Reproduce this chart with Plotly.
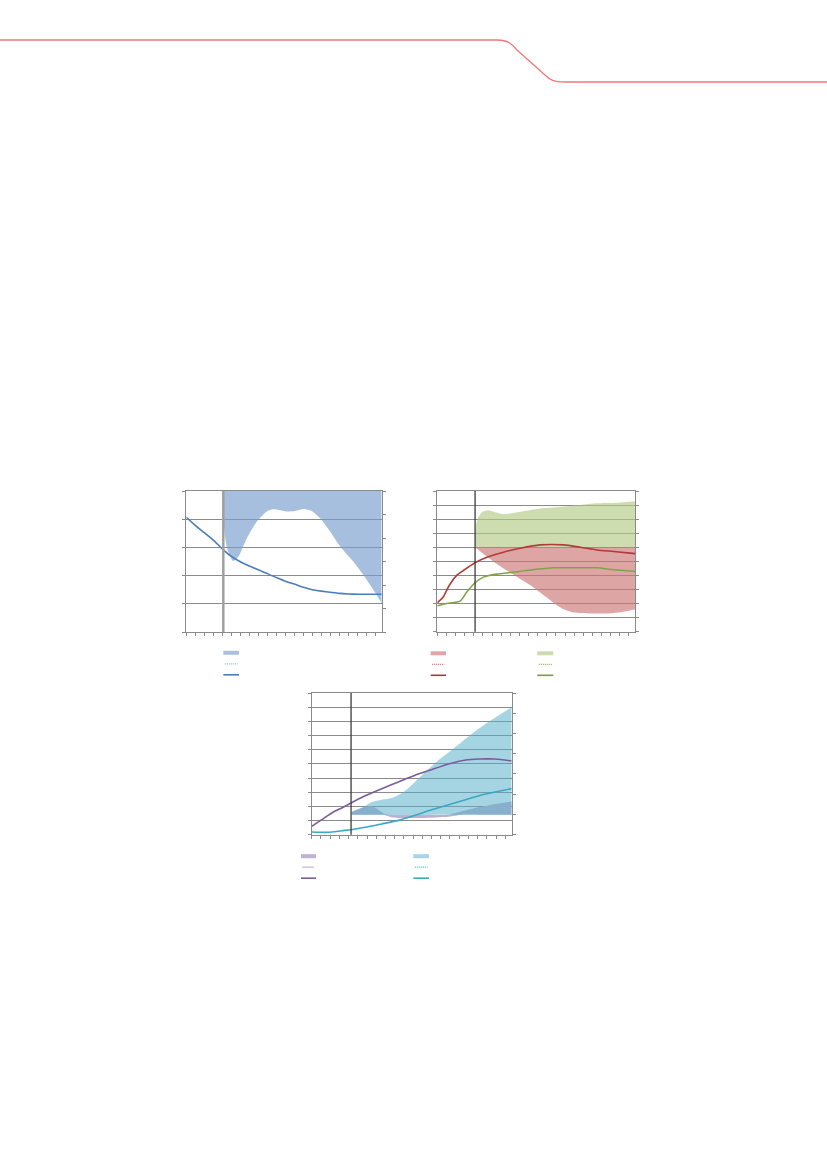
import plotly.graph_objects as go

W, H = 827, 1170

# ---------------- data ----------------
# Chart 1 (left, top)
c1_line_x = [0, 1, 2, 3, 4, 5, 6, 7, 8, 9, 10, 11, 12, 13, 14, 15, 16, 17, 18, 19, 20, 21, 21.7]
c1_line_y = [4.07, 3.78, 3.52, 3.26, 2.95, 2.68, 2.49, 2.34, 2.21, 2.07, 1.93, 1.80, 1.70,
             1.59, 1.50, 1.45, 1.41, 1.37, 1.35, 1.34, 1.34, 1.34, 1.34]
c1_band_x = [4.11, 4.5, 5.2, 5.78, 6.71, 7.82, 8.93, 9.67, 11.16, 12.08, 13.0, 13.93,
             14.86, 15.97, 17.08, 18.56, 19.67, 20.78, 21.7]
c1_band_lo = [3.95, 3.0, 2.52, 2.67, 3.32, 3.91, 4.27, 4.35, 4.27, 4.29, 4.36, 4.29,
              4.03, 3.56, 3.03, 2.49, 2.02, 1.49, 1.02]
c1_band_hi = [5.0, 5.0, 5.0, 5.0, 5.0, 5.0, 5.0, 5.0, 5.0, 5.0, 5.0, 5.0,
              5.0, 5.0, 5.0, 5.0, 5.0, 5.0, 5.0]
c1_vline = 4.11

# Chart 2 (right, top)
c2_red_x = [0, 0.66, 1.21, 2.13, 2.86, 4.14, 5.43, 7.25, 9.09, 11.3, 13.85, 15.7, 17.5, 19.3, 21.7]
c2_red_y = [2.07, 2.47, 3.18, 4.0, 4.35, 4.9, 5.29, 5.65, 5.93, 6.17, 6.17, 6.0, 5.81, 5.7, 5.55]
c2_green_x = [0, 1.03, 2.5, 3.23, 4.14, 5.05, 6.5, 8.35, 10.2, 12.75, 14.95, 17.5, 19.3, 21.7]
c2_green_y = [1.84, 2.0, 2.17, 2.82, 3.48, 3.88, 4.09, 4.23, 4.38, 4.54, 4.54, 4.54, 4.4, 4.28]
c2_gband_x = [4.14, 4.4, 4.9, 5.5, 6.5, 7.25, 8.7, 11.3, 13.85, 15.7, 17.5, 19.7, 21.7]
c2_gband_hi = [7.2, 8.0, 8.5, 8.64, 8.47, 8.35, 8.47, 8.75, 8.89, 9.01, 9.13, 9.17, 9.27]
c2_gband_lo = [6.0, 6.0, 6.0, 6.0, 6.0, 6.0, 6.0, 6.0, 6.0, 6.0, 6.0, 6.0, 6.0]
c2_rband_x = [4.14, 5.05, 6.5, 8.35, 10.2, 12.0, 13.1, 13.85, 14.95, 16.8, 18.6, 20.1, 21.7]
c2_rband_hi = [6.0, 6.0, 6.0, 6.0, 6.0, 6.0, 6.0, 6.0, 6.0, 6.0, 6.0, 6.0, 6.0]
c2_rband_lo = [6.0, 5.53, 4.83, 4.05, 3.3, 2.43, 1.88, 1.6, 1.37, 1.3, 1.3, 1.39, 1.6]
c2_vline = 4.14

# Chart 3 (bottom)
c3_purple_x = [0, 1.09, 2.35, 3.26, 4.27, 5.8, 7.6, 9.4, 11.2, 13.0, 14.85, 16.7, 18.1, 19.9, 21.7]
c3_purple_y = [0.59, 1.06, 1.6, 1.88, 2.24, 2.75, 3.25, 3.72, 4.19, 4.59, 4.99, 5.27, 5.34, 5.34, 5.2]
c3_teal_x = [0, 1.8, 3.26, 4.27, 5.8, 7.6, 9.4, 11.2, 13.0, 14.85, 16.7, 18.5, 19.9, 21.7]
c3_teal_y = [0.19, 0.17, 0.28, 0.35, 0.52, 0.76, 1.01, 1.37, 1.76, 2.12, 2.47, 2.82, 3.01, 3.25]
c3_tband_x = [4.34, 5.4, 6.52, 7.6, 8.7, 9.8, 10.9, 12.4, 13.85, 15.7, 17.5, 19.3, 21.7]
c3_tband_hi = [1.6, 1.88, 2.31, 2.47, 2.59, 2.94, 3.53, 4.48, 5.3, 6.24, 7.18, 8.0, 9.0]
c3_tband_lo = [1.41, 1.41, 1.41, 1.41, 1.41, 1.41, 1.41, 1.41, 1.41, 1.41, 1.41, 1.41, 1.41]
c3_pband_x = [4.34, 5.61, 6.52, 7.07, 7.97, 8.7, 11.95, 14.85, 16.3, 18.1, 19.9, 21.7]
c3_pband_hi = [1.6, 1.93, 2.0, 1.84, 1.46, 1.41, 1.41, 1.41, 1.65, 1.93, 2.17, 2.35]
c3_pband_lo = [1.41, 1.41, 1.41, 1.40, 1.37, 1.22, 1.18, 1.27, 1.41, 1.41, 1.41, 1.41]
c3_vline = 4.27

# ---------------- styles ----------------
GRID = "#8a8a8a"
BLUE_BAND = "rgba(120,157,206,0.65)"
BLUE_LINE = "#4a7ebb"
RED_BAND = "rgba(204,117,117,0.65)"
RED_LINE = "#b03c3a"
GREEN_BAND = "rgba(178,203,132,0.65)"
GREEN_LINE = "#7fa447"
TEAL_BAND = "rgba(85,176,200,0.53)"
TEAL_LINE = "#3aa8c1"
PURPLE_BAND = "rgb(189,176,210)"
PURPLE_LINE = "#7a5c9e"


def px(x):
    return x / W


def py(y):
    return 1 - y / H


fig = go.Figure()


def band(x, lo, hi, color, xa, ya):
    fig.add_trace(go.Scatter(x=x, y=lo, mode="lines",
                             line=dict(width=0, color=color, shape="spline", smoothing=0.6),
                             xaxis=xa, yaxis=ya, showlegend=False, hoverinfo="skip"))
    fig.add_trace(go.Scatter(x=x, y=hi, mode="lines",
                             line=dict(width=0, color=color, shape="spline", smoothing=0.6),
                             fill="tonexty", fillcolor=color,
                             xaxis=xa, yaxis=ya, showlegend=False, hoverinfo="skip"))


def line(x, y, color, xa, ya):
    fig.add_trace(go.Scatter(x=x, y=y, mode="lines",
                             line=dict(width=1.6, color=color, shape="spline", smoothing=0.6),
                             xaxis=xa, yaxis=ya, showlegend=False))


# chart 1
band(c1_band_x, c1_band_lo, c1_band_hi, BLUE_BAND, "x", "y")
line(c1_line_x, c1_line_y, BLUE_LINE, "x", "y")
# chart 2
band(c2_gband_x, c2_gband_lo, c2_gband_hi, GREEN_BAND, "x2", "y3")
band(c2_rband_x, c2_rband_lo, c2_rband_hi, RED_BAND, "x2", "y3")
line(c2_green_x, c2_green_y, GREEN_LINE, "x2", "y3")
line(c2_red_x, c2_red_y, RED_LINE, "x2", "y3")
# chart 3
band(c3_pband_x, c3_pband_lo, c3_pband_hi, PURPLE_BAND, "x3", "y5")
band(c3_tband_x, c3_tband_lo, c3_tband_hi, TEAL_BAND, "x3", "y5")
line(c3_teal_x, c3_teal_y, TEAL_LINE, "x3", "y5")
line(c3_purple_x, c3_purple_y, PURPLE_LINE, "x3", "y5")

# dummy traces so the right-hand axes are drawn
for ya, xa in (("y2", "x"), ("y4", "x2"), ("y6", "x3")):
    fig.add_trace(go.Scatter(x=[None], y=[None], xaxis=xa, yaxis=ya, showlegend=False))

# ---------------- axes ----------------
boxes = {
    1: dict(x=(186.3, 381.7), y=(491, 632), ny=5, nr=6),
    2: dict(x=(437.3, 635.3), y=(491, 631.7), ny=10, nr=10),
    3: dict(x=(311.7, 511.7), y=(693, 834.7), ny=10, nr=7),
}
XMAX = 21.7
xnames = {1: ("xaxis", "y"), 2: ("xaxis2", "y3"), 3: ("xaxis3", "y5")}
ynames = {1: ("yaxis", "x", "yaxis2"), 2: ("yaxis3", "x2", "yaxis4"), 3: ("yaxis5", "x3", "yaxis6")}

lay = {}
for k, b in boxes.items():
    xd = [px(b["x"][0]), px(b["x"][1])]
    yd = [py(b["y"][1]), py(b["y"][0])]
    xn, xanchor = xnames[k]
    yn, yanchor, rn = ynames[k]
    lay[xn] = dict(domain=xd, anchor=xanchor, range=[0, XMAX], tick0=0, dtick=1,
                   ticks="outside", ticklen=3, tickcolor=GRID, tickwidth=1,
                   showline=True, linecolor=GRID, linewidth=1, mirror=True,
                   showgrid=False, zeroline=False, showticklabels=False, fixedrange=True)
    lay[yn] = dict(domain=yd, anchor=yanchor, range=[0, b["ny"]], tick0=0, dtick=1,
                   ticks="outside", ticklen=3, tickcolor=GRID, tickwidth=1,
                   showline=True, linecolor=GRID, linewidth=1, mirror=True,
                   showgrid=True, gridcolor=GRID, gridwidth=1,
                   zeroline=False, showticklabels=False, fixedrange=True)
    lay[rn] = dict(overlaying=yn.replace("axis", ""), anchor=yanchor, side="right",
                   range=[0, b["nr"]], tick0=0, dtick=1,
                   ticks="outside", ticklen=3, tickcolor=GRID, tickwidth=1,
                   showline=True, linecolor=GRID, linewidth=1,
                   showgrid=False, zeroline=False, showticklabels=False, fixedrange=True)

# ---------------- shapes ----------------
shapes = []
# forecast separators
shapes.append(dict(type="line", xref="x", yref="y domain", x0=c1_vline, x1=c1_vline,
                   y0=0, y1=1, line=dict(color="#a0a0a0", width=2.5)))
shapes.append(dict(type="line", xref="x2", yref="y3 domain", x0=c2_vline, x1=c2_vline,
                   y0=0, y1=1, line=dict(color="#3c3c3c", width=1.3)))
shapes.append(dict(type="line", xref="x3", yref="y5 domain", x0=c3_vline, x1=c3_vline,
                   y0=0, y1=1, line=dict(color="#3c3c3c", width=1.3)))

# header rule
path = "M {:.5f},{:.5f} L {:.5f},{:.5f} ".format(px(0), py(40), px(497), py(40))
path += "C {:.5f},{:.5f} {:.5f},{:.5f} {:.5f},{:.5f} ".format(px(508), py(40), px(512), py(44), px(517), py(50))
path += "L {:.5f},{:.5f} ".format(px(545), py(75))
path += "C {:.5f},{:.5f} {:.5f},{:.5f} {:.5f},{:.5f} ".format(px(550), py(80), px(554), py(82), px(565), py(82))
path += "L {:.5f},{:.5f}".format(px(W), py(82))
shapes.append(dict(type="path", xref="paper", yref="paper", path=path,
                   line=dict(color="#f07878", width=1.3)))


# legend keys
def key_rect(x0, x1, yc, color):
    shapes.append(dict(type="rect", xref="paper", yref="paper", x0=px(x0), x1=px(x1),
                       y0=py(yc + 2), y1=py(yc - 2), fillcolor=color, line=dict(width=0)))


def key_line(x0, x1, yc, color, dash, width):
    shapes.append(dict(type="line", xref="paper", yref="paper", x0=px(x0), x1=px(x1),
                       y0=py(yc), y1=py(yc), line=dict(color=color, width=width, dash=dash)))


legend_sets = [
    (223.3, 239, 652.8, "#a9c0de", "#9db6d8", BLUE_LINE),
    (430.7, 446, 653.3, "#dea6a6", "#c46a6a", "#a03c3a"),
    (537.3, 553.3, 653.3, "#cddcb0", "#94b25a", "#7a9a47"),
    (301, 316, 856.2, "#bdb1d4", "#8a72ae", PURPLE_LINE),
    (413.3, 429, 856.2, "#a6d6e3", "#4fb3cc", TEAL_LINE),
]
for x0, x1, yc, cband, cdot, cline in legend_sets:
    key_rect(x0, x1, yc, cband)
    key_line(x0 + 1.5, x1 - 1.5, yc + 11, cdot, "1px,1px", 1.2)
    key_line(x0, x1, yc + 22, cline, "solid", 1.6)

fig.update_layout(
    width=W, height=H,
    margin=dict(l=0, r=0, t=0, b=0),
    paper_bgcolor="white", plot_bgcolor="rgba(0,0,0,0)",
    showlegend=False,
    shapes=shapes,
    **lay,
)

fig.write_html("out.html", config={"displayModeBar": False},
               post_script="document.body.style.margin='0';document.body.style.overflow='hidden';")
